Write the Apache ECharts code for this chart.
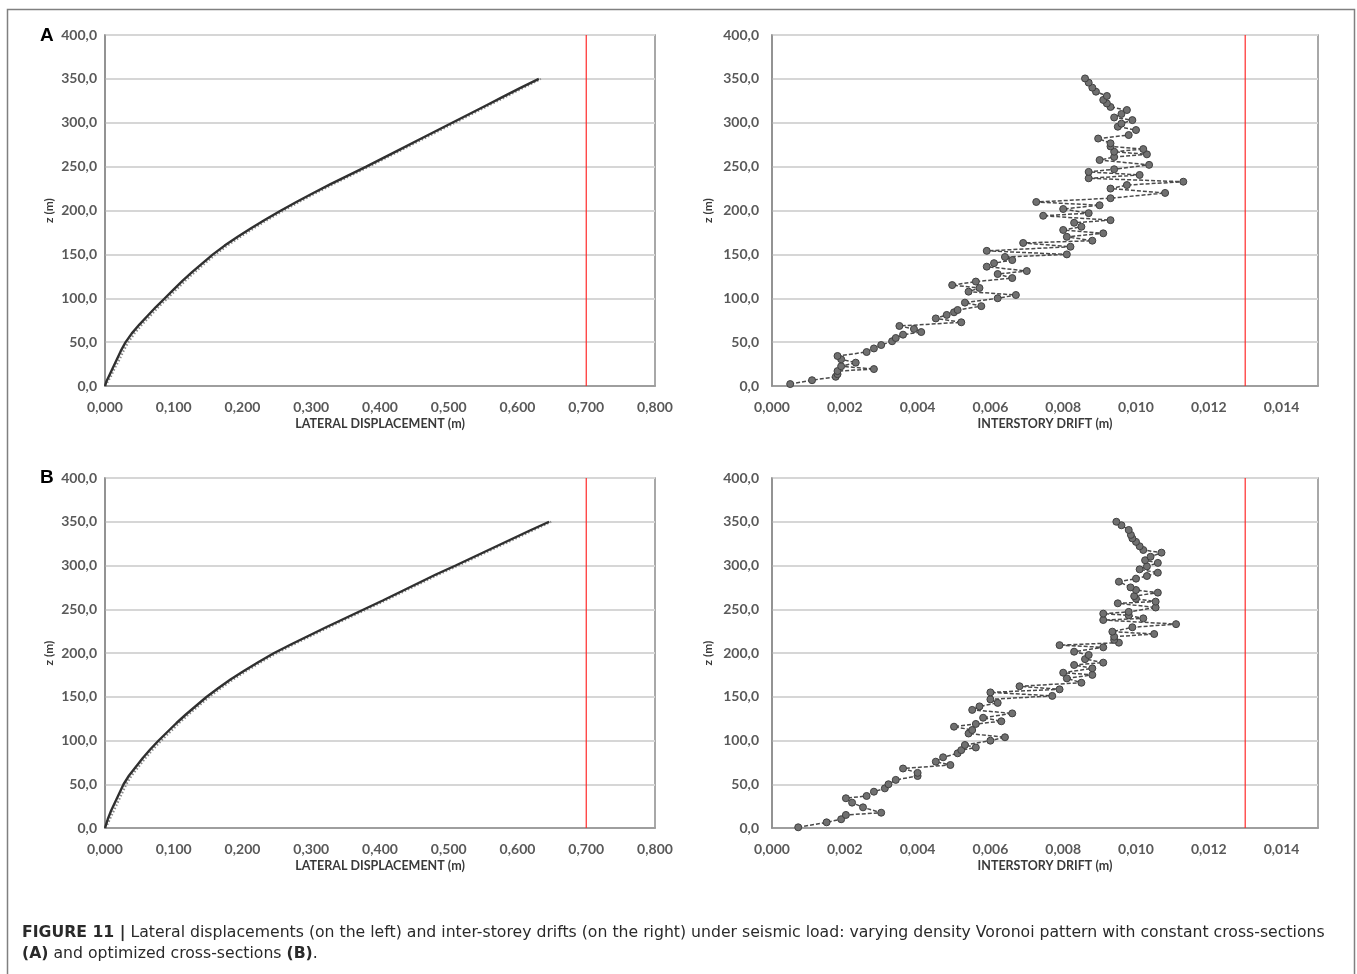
<!DOCTYPE html>
<html><head><meta charset="utf-8">
<script src="https://cdn.jsdelivr.net/npm/echarts@6/dist/echarts.min.js"></script>
<style>html,body{margin:0;padding:0;background:#fff}#c{width:1357px;height:974px}</style>
</head><body><div id="c"></div>
<script>
// ---- data ----
const zDisp = [0,5,10,20,30,40,50,60,70,80,90,100,110,120,130,140,150,160,170,180,190,200,210,220,230,240,250,260,270,280,290,300,310,320,330,340,350];
const dispA = [0,.002,.005,.011,.017,.023,.030,.039,.050,.062,.074,.087,.100,.113,.127,.142,.157,.174,.193,.213,.234,.256,.279,.303,.328,.354,.380,.405,.430,.455,.480,.505,.530,.555,.580,.605,.631];
const dispAShadow = [.001,.004,.008,.014,.021,.027,.034,.043,.054,.066,.078,.091,.104,.117,.131,.146,.161,.178,.197,.217,.238,.260,.283,.307,.332,.358,.384,.409,.434,.459,.484,.509,.534,.559,.584,.609,.634];
const dispB = [0,.002,.004,.009,.015,.021,.027,.035,.045,.055,.066,.078,.091,.104,.118,.133,.148,.165,.183,.203,.224,.246,.271,.297,.323,.350,.377,.404,.430,.456,.482,.510,.537,.564,.591,.618,.646];
const dispBShadow = [.001,.004,.007,.013,.019,.025,.031,.039,.049,.059,.070,.082,.095,.108,.122,.137,.152,.169,.187,.207,.228,.250,.275,.301,.327,.354,.381,.408,.434,.460,.486,.514,.541,.568,.595,.622,.649];

// [z (m), drift (m)]
const driftA = [[2.2,.0005],[6.6,.0011],[10.5,.00175],[13.5,.0018],[17,.0018],[19.3,.0028],[22.5,.0019],[26.6,.0023],[30.4,.0019],[34.2,.0018],
[38.7,.0026],[42.8,.0028],[46.7,.0030],[51,.0033],[54.7,.0034],[58.5,.0036],[61.5,.0041],[65,.0039],[68.4,.0035],[72.6,.0052],
[77,.0045],[81,.0048],[84,.0050],[86.6,.0051],[91,.00575],[95,.0053],[100,.0062],[103.7,.0067],[107.5,.0054],[111.7,.0057],
[115,.00495],[119,.0056],[123,.0066],[127.6,.0062],[131,.0070],[136,.0059],[140,.0061],[143.5,.0066],[147,.0064],[150,.0081],
[154,.0059],[158.7,.0082],[163,.0069],[165.6,.0088],[170,.0081],[174,.0091],[177.8,.0080],[181.5,.0085],[186,.0083],[189,.0093],
[194,.00745],[197,.0087],[201.7,.0080],[206,.0090],[209.7,.00726],[214,.0093],[220,.0108],[225,.0093],[229,.00975],[232.8,.0113],
[236.7,.0087],[240.5,.0101],[244,.0087],[247,.0094],[252,.01036],[257.5,.0090],[261,.0094],[264,.0103],[267,.0094],[270,.0102],
[273,.0093],[276.6,.0093],[282,.00896],[286,.0098],[291.7,.0100],[295.5,.0095],[299,.0096],[303,.0099],[306,.0094],[310,.0096],
[314.5,.00975],[318,.0093],[322,.0092],[326,.0091],[330.5,.0092],[335.4,.0089],[340,.0088],[345.7,.0087],[350.5,.0086]];
const driftB = [[0.8,.00072],[6.5,.0015],[10,.0019],[14.9,.00203],[17.5,.0030],[23.6,.0025],[29,.0022],[34,.00203],[36.6,.0026],[41.5,.0028],
[45.3,.0031],[50,.0032],[55,.0034],[59.4,.0040],[63,.0040],[68,.0036],[72,.0049],[75.8,.0045],[80.8,.0047],[85.4,.0051],
[89,.0052],[92,.0056],[94.9,.0053],[99.8,.0060],[103.7,.0064],[108,.0054],[112,.0055],[115.8,.0050],[118.9,.0056],[122,.0063],
[126,.0058],[131,.0066],[135,.0055],[139,.0057],[143,.0062],[147,.0060],[151,.0077],[155,.0060],[158.5,.0079],[162,.0068],
[166,.0085],[171,.0081],[175,.0088],[177.5,.0080],[182.5,.0088],[186.3,.0083],[189,.0091],[193,.0086],[197.7,.0087],[201.5,.0083],
[206.5,.0091],[209,.0079],[211.8,.00953],[215,.0094],[218.6,.0094],[221.7,.0105],[224.4,.00935],[229.4,.0099],[233,.0111],[237.7,.0091],
[239.6,.0102],[243,.0098],[245,.0091],[247,.0098],[252,.01054],[256.8,.0095],[258.7,.01054],[262,.0100],[265,.00995],[269,.0106],
[272,.0100],[275,.00985],[281.5,.00953],[285,.0100],[288,.0103],[291.8,.0106],[295.6,.0101],[299,.0103],[303,.0106],[306,.01025],
[310,.0104],[314.7,.0107],[317.7,.0102],[322,.0101],[327,.0100],[331,.0099],[335,.00986],[340.6,.0098],[346,.0096],[350,.00946]];

const dispLimit = 0.7;
const driftLimit = 0.013;
const limitSpan = [0, 400];
const panelLabels = ['A','B'];
const xTitles = ['LATERAL DISPLACEMENT (m)','INTERSTORY DRIFT (m)'];
const yTitle = 'z (m)';
const captionLines = [
  '{b|FIGURE 11 |} Lateral displacements (on the left) and inter-storey drifts (on the right) under seismic load: varying density Voronoi pattern with constant cross-sections',
  '{b|(A)} and optimized cross-sections {b|(B)}.'
];

// ---- chart ----
const FONT = 'Lato, "Open Sans", sans-serif';
const LBL = {fontFamily: FONT, fontWeight: 'bold', fontSize: 14, color: '#595959'};
const AX = '#8c8c8c';
const grids = [
  {left:105, top:35, width:550, height:351},
  {left:772, top:35, width:546, height:351},
  {left:105, top:478, width:550, height:350},
  {left:772, top:478, width:546, height:350}
].map(g => Object.assign({show:true, borderColor:AX, borderWidth:1.5, backgroundColor:'#fff'}, g));

function xAx(i, isDrift) {
  return {
    type:'value', gridIndex:i, min:0, max: isDrift ? 0.015 : 0.8, interval: isDrift ? 0.002 : 0.1,
    name: xTitles[isDrift ? 1 : 0], nameLocation:'middle', nameGap:31,
    nameTextStyle:{fontFamily:FONT, fontWeight:'bold', fontSize:12.5, color:'#3a3a3a'},
    axisLine:{show:true, lineStyle:{color:AX, width:1.5}},
    axisTick:{show:false},
    splitLine:{show:false},
    axisLabel:Object.assign({margin:14, showMaxLabel: !isDrift,
      formatter: v => v.toFixed(3).replace('.', ',')}, LBL)
  };
}
function yAx(i, isDrift) {
  return {
    type:'value', gridIndex:i, min:0, max:400, interval:50,
    name: yTitle, nameLocation:'middle', nameRotate:90, nameGap: isDrift ? 58 : 50,
    nameTextStyle:{fontFamily:FONT, fontWeight:'bold', fontSize:12, color:'#3a3a3a'},
    axisLine:{show:true, lineStyle:{color:AX, width:1.5}},
    axisTick:{show:false},
    splitLine:{show:true, lineStyle:{color:'#d6d6d6', width:2}},
    axisLabel:Object.assign({margin: isDrift ? 13 : 8, formatter: v => v.toFixed(1).replace('.', ',')}, LBL)
  };
}

function limitSeries(idx, v) {
  return {type:'line', xAxisIndex:idx, yAxisIndex:idx, data: limitSpan.map(z => [v, z]),
    symbol:'none', silent:true, lineStyle:{color:'#ff2a2a', width:1.2}, z:1};
}
function dispSeries(idx, main, shadow) {
  return [
    limitSeries(idx, dispLimit),
    {type:'line', xAxisIndex:idx, yAxisIndex:idx, data: zDisp.map((z,i)=>[shadow[i], z]),
     symbol:'none', lineStyle:{color:'#8a8a8a', width:2.2, type:[1.5,2]}, z:2},
    {type:'line', xAxisIndex:idx, yAxisIndex:idx, data: zDisp.map((z,i)=>[main[i], z]),
     symbol:'none', lineStyle:{color:'#303030', width:2.4}, z:3}
  ];
}
function driftSeries(idx, arr) {
  return [
    limitSeries(idx, driftLimit),
    {type:'line', xAxisIndex:idx, yAxisIndex:idx, data: arr.map(p=>[p[1], p[0]]),
    symbol:'circle', symbolSize:7,
    itemStyle:{color:'#707070', borderColor:'#404040', borderWidth:1},
    lineStyle:{color:'#4a4a4a', width:1.5, type:[4,2]}, z:3}
  ];
}

const chart = echarts.init(document.getElementById('c'), null, {renderer:'canvas'});
chart.setOption({
  animation:false,
  backgroundColor:'#fff',
  grid: grids,
  xAxis: [xAx(0,false), xAx(1,true), xAx(2,false), xAx(3,true)],
  yAxis: [yAx(0,false), yAx(1,true), yAx(2,false), yAx(3,true)],
  series: [
    ...dispSeries(0, dispA, dispAShadow),
    ...driftSeries(1, driftA),
    ...dispSeries(2, dispB, dispBShadow),
    ...driftSeries(3, driftB)
  ],
  graphic: [
    {type:'rect', shape:{x:7.5, y:9.5, width:1347, height:975}, style:{fill:'none', stroke:'#808080', lineWidth:1.5}, silent:true, z:-10},
    {type:'text', left:40, top:26, style:{text:panelLabels[0], font:'bold 19px "Liberation Sans", Arial, sans-serif', fill:'#000'}},
    {type:'text', left:40, top:468, style:{text:panelLabels[1], font:'bold 19px "Liberation Sans", Arial, sans-serif', fill:'#000'}},
    {type:'text', left:22, top:922, style:{text:captionLines.join('\n'), lineHeight:21,
      font:'15.7px "DejaVu Sans", sans-serif', fill:'#2a2a2a',
      rich:{b:{font:'bold 15.7px "DejaVu Sans", sans-serif', fill:'#2a2a2a'}}}}
  ]
});
</script></body></html>
